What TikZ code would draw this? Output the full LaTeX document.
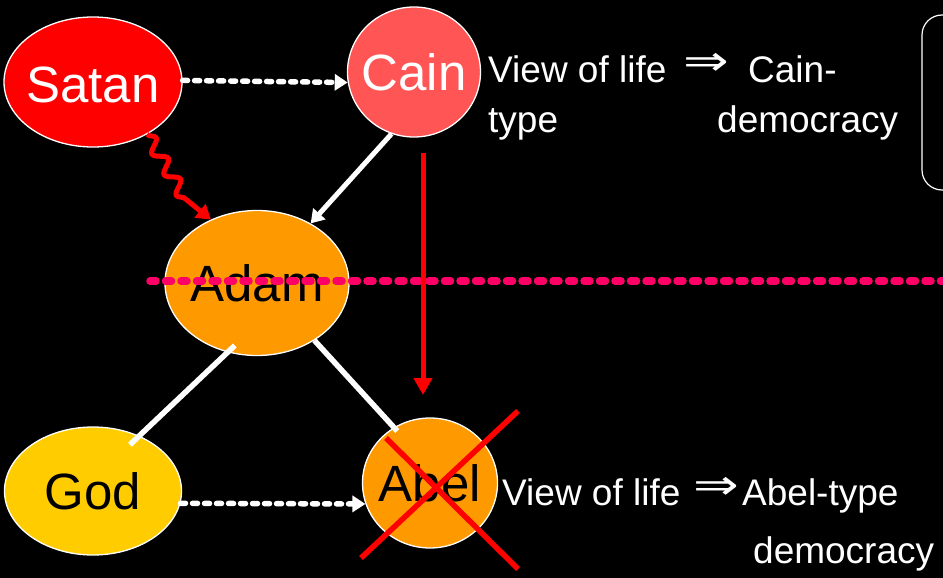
\documentclass[tikz,border=0pt]{standalone}
\usepackage{fontspec}
\setmainfont{Liberation Sans}
\newfontfamily\arrowfont{DejaVu Sans}
\usetikzlibrary{shapes.geometric,arrows.meta,decorations.pathmorphing}
\definecolor{satanred}{HTML}{FF0000}
\definecolor{cainred}{HTML}{FF5555}
\definecolor{adamor}{HTML}{FF9900}
\definecolor{godyel}{HTML}{FFCC00}
\definecolor{dotpink}{HTML}{FF0066}
\begin{document}
\begin{tikzpicture}[x=1pt,y=-1pt,
  person/.style={ellipse, draw=white, line width=1.3pt, inner sep=0pt},
  nametext/.style={font=\fontsize{51}{60}\selectfont, inner sep=0pt},
  lbl/.style={text=white, font=\fontsize{37}{44}\selectfont, inner sep=0pt, anchor=base west},
  implies/.style={text=white, font=\arrowfont\fontsize{42}{42}\selectfont, inner sep=0pt},
  dasharrow/.style={white, line width=5.5pt, line cap=round, dash pattern=on 5pt off 7pt, -{Triangle[length=13pt,width=16pt]}},
  whiteline/.style={white, line width=5.5pt},
  redline/.style={red, line width=5.5pt}
]
\fill[black] (0,0) rectangle (943,578);
\useasboundingbox (0,0) rectangle (943,578);
\clip (0,0) rectangle (943,578);

% nodes
\node[person, fill=satanred, minimum width=178pt, minimum height=130pt,
      label={[nametext,text=white,yshift=-3pt]center:Satan}] (satan) at (93,82) {};
\node[person, fill=cainred, minimum width=133pt, minimum height=130pt,
      label={[nametext,text=white]center:Cain}] (cain) at (414,72) {};
\node[person, fill=adamor, minimum width=184pt, minimum height=145pt,
      label={[nametext,text=black]center:Adam}] (adam) at (257,283) {};
\node[person, fill=godyel, minimum width=177pt, minimum height=128pt,
      label={[nametext,text=black]center:God}] (god) at (93,491) {};
\node[person, fill=adamor, minimum width=135pt, minimum height=130pt,
      label={[nametext,text=black]center:Abel}] (abel) at (430,483) {};

% labels
\node[lbl] (v1) at (488,82) {View of life};
\node[lbl] (t1) at (488,132) {type};
\node[implies] (i1) at (706,64) {\scalebox{1.3}[1]{⇒}};
\node[lbl] (c1) at (748,82) {Cain-};
\node[lbl] (d1) at (717,132) {democracy};

\node[lbl] (v2) at (502,505) {View of life};
\node[implies] (i2) at (716,488) {\scalebox{1.3}[1]{⇒}};
\node[lbl] (a2) at (742,505) {Abel-type};
\node[lbl] (d2) at (753,563) {democracy};

% right box (cut by the edge)
\draw[white, line width=1.2pt, rounded corners=20pt] (922,15) rectangle (990,190);

% connectors
\draw[dasharrow] (satan.1) -- (cain.-171);
\draw[dasharrow] (god.-8) -- (abel.-162);
\draw[white, line width=5pt, -{Triangle[length=13pt,width=16pt]}] (cain.-110) -- (adam.48);
\draw[whiteline, shorten <=-10pt, shorten >=-13pt] (adam.-113) -- (god.50);
\draw[whiteline, shorten >=-5pt] (adam.-45) -- (abel.123);
\draw[red, line width=5pt, decorate,
      decoration={snake, amplitude=6pt, segment length=24pt, post length=32pt},
      -{Triangle[length=14pt,width=17pt]}]
  (satan.-44) -- (186,200) .. controls (198,194) and (208,204) .. (adam.126);

% pink dotted divider
\draw[dotpink, line width=7.5pt, line cap=round, dash pattern=on 6pt off 9.5pt] (150,281) -- (960,281);

% red arrow
\coordinate (rtop) at (423,153);
\coordinate (rbot) at (423,395);
\draw[red, line width=5pt, -{Triangle[length=17pt,width=18pt]}] (rtop) -- (rbot);

% cross over Abel
\draw[redline] (361,558) -- (518,411);
\draw[redline] (386,438) -- (518,569);
\end{tikzpicture}
\end{document}
